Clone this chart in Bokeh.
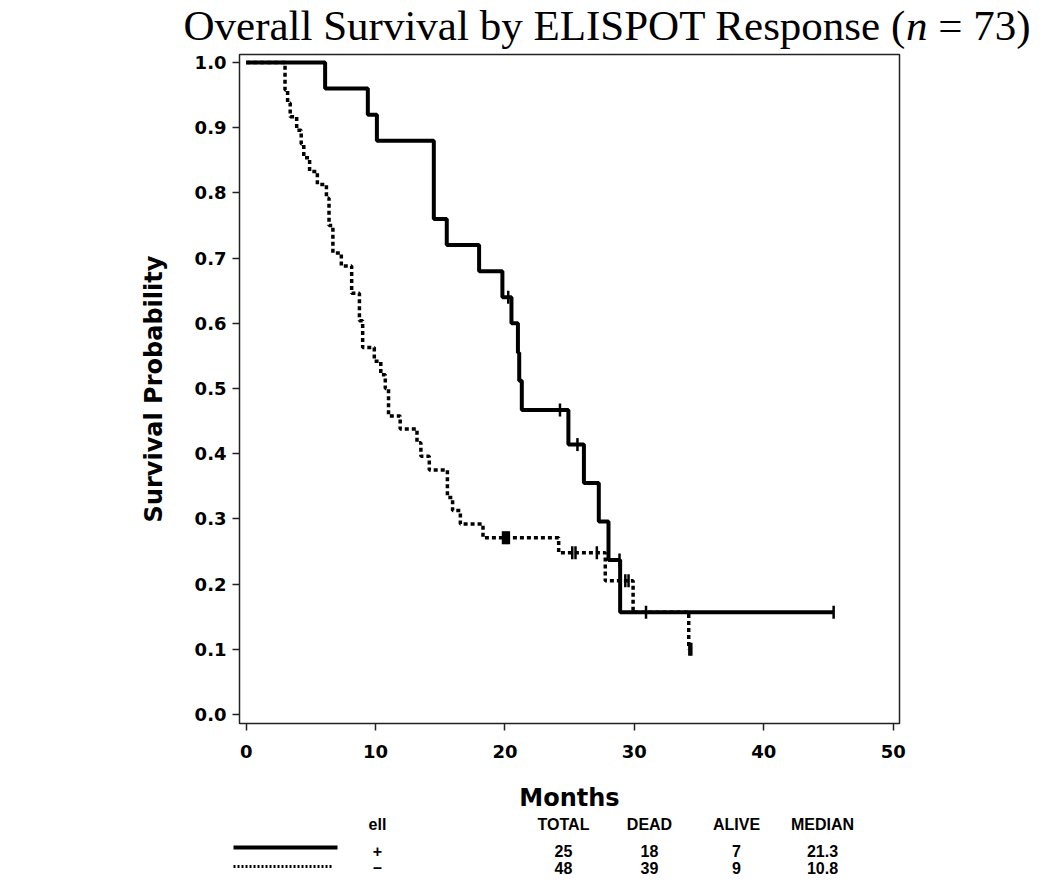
import numpy as np
from bokeh.plotting import figure
from bokeh.models import Range1d, FixedTicker, PrintfTickFormatter
from bokeh.layouts import column
from bokeh.embed import file_html
from bokeh.resources import INLINE
from bokeh.core.properties import value

# ---------------- data ----------------
# ELISPOT positive (+): Kaplan-Meier step function
pos_time = [0, 6.1, 9.4, 10.1, 14.5, 15.5, 18.0, 19.8, 20.5, 21.0, 21.1, 21.3,
            24.9, 26.1, 27.25, 28.0, 28.9, 45.4]
pos_surv = [1.0, 0.96, 0.92, 0.88, 0.76, 0.72, 0.68, 0.64, 0.60, 0.555, 0.512, 0.467,
            0.414, 0.355, 0.296, 0.237, 0.157, 0.157]
pos_cens_time = [20.25, 24.25, 25.6, 28.85, 30.9, 45.4]
pos_cens_surv = [0.64, 0.467, 0.414, 0.237, 0.157, 0.157]

# ELISPOT negative (-)
neg_time = [0, 3.0, 3.2, 3.4, 3.9, 4.25, 4.45, 4.9, 5.5, 6.2, 6.4, 6.7, 7.35, 8.15,
            8.75, 9.0, 9.9, 10.4, 10.75, 11.0, 11.9, 13.2, 13.5, 14.15, 15.55, 15.95,
            16.55, 18.3, 24.15, 27.75, 29.9, 34.2]
neg_surv = [1.0, 0.958, 0.938, 0.917, 0.896, 0.875, 0.854, 0.833, 0.813, 0.792, 0.750,
            0.708, 0.688, 0.646, 0.604, 0.563, 0.542, 0.521, 0.500, 0.458, 0.438,
            0.417, 0.396, 0.375, 0.333, 0.313, 0.292, 0.271, 0.248, 0.205, 0.157, 0.100]
neg_cens_time = [19.85, 20.0, 20.15, 20.3, 25.2, 25.45, 27.1, 29.3, 29.55, 34.25, 34.4]
neg_cens_surv = [0.271, 0.271, 0.271, 0.271, 0.248, 0.248, 0.248, 0.205, 0.205, 0.100, 0.100]

x_ticks = [0, 10, 20, 30, 40, 50]
y_ticks = [0.0, 0.1, 0.2, 0.3, 0.4, 0.5, 0.6, 0.7, 0.8, 0.9, 1.0]

table_headers = ["ell", "TOTAL", "DEAD", "ALIVE", "MEDIAN"]
groups = ["+", "–"]
total = ["25", "48"]
dead = ["18", "39"]
alive = ["7", "9"]
median = ["21.3", "10.8"]

title_a = "Overall Survival by ELISPOT Response ("
title_n = "n"
title_b = "= 73)"

# ---------------- layout (page pixel positions) ----------------
W = 1042
FRAME_LEFT_PX = 239
FRAME_W = 660
FRAME_TOP_PX = 54
FRAME_H = 669
X_LO, X_HI = -0.518, 50.49
Y_LO, Y_HI = -0.0138, 1.0123

TITLE_H = 50
MAIN_H = 815 - TITLE_H
TAB_H = 71

# ---- title strip ----
tt = figure(width=W, height=TITLE_H, output_backend="svg", toolbar_location=None,
            x_range=Range1d(0, W), y_range=Range1d(0, TITLE_H), min_border=0,
            background_fill_color="white", border_fill_color="white")
tt.frame_align = False
tt.axis.visible = False
tt.grid.visible = False
tt.outline_line_color = None

TF = 43
tfont = value("Liberation Serif")
start_px = 183
w_a = 16.804 * TF
w_n = 0.5 * TF
w_sp = 0.25 * TF
mid_y = TITLE_H - 25
tt.text(x=[start_px], y=[mid_y], text=[title_a], text_font=tfont, text_font_size=f"{TF}px",
        text_align="left", text_baseline="middle", text_color="black")
tt.text(x=[start_px + w_a], y=[mid_y], text=[title_n], text_font=tfont,
        text_font_style="italic", text_font_size=f"{TF}px",
        text_align="left", text_baseline="middle", text_color="black")
tt.text(x=[start_px + w_a + w_n + w_sp], y=[mid_y], text=[title_b], text_font=tfont,
        text_font_size=f"{TF}px",
        text_align="left", text_baseline="middle", text_color="black")

# ---- main plot ----
p = figure(width=W, height=MAIN_H, output_backend="svg", toolbar_location=None,
           x_range=Range1d(X_LO, X_HI), y_range=Range1d(Y_LO, Y_HI),
           min_border_left=FRAME_LEFT_PX, min_border_right=W - FRAME_LEFT_PX - FRAME_W,
           min_border_top=FRAME_TOP_PX - TITLE_H,
           min_border_bottom=MAIN_H - (FRAME_TOP_PX - TITLE_H) - FRAME_H,
           background_fill_color="white", border_fill_color="white")
p.grid.visible = False
p.outline_line_color = "#222222"
p.outline_line_width = 1.5

sans = "DejaVu Sans"
for ax in (p.xaxis, p.yaxis):
    ax.axis_line_color = None
    ax.major_tick_line_color = "#222222"
    ax.major_tick_line_width = 1.5
    ax.major_tick_out = 7
    ax.major_tick_in = 0
    ax.minor_tick_line_color = None
    ax.major_label_text_font = sans
    ax.major_label_text_font_style = "bold"
    ax.major_label_text_font_size = "18px"
    ax.major_label_text_color = "black"
    ax.axis_label_text_font = sans
    ax.axis_label_text_font_style = "bold"
    ax.axis_label_text_font_size = "24px"
    ax.axis_label_text_color = "black"

p.xaxis.ticker = FixedTicker(ticks=x_ticks)
p.yaxis.ticker = FixedTicker(ticks=y_ticks)
p.yaxis.formatter = PrintfTickFormatter(format="%.1f")
p.xaxis.axis_label = "Months"
p.yaxis.axis_label = "Survival Probability"
p.xaxis.major_label_standoff = 14
p.yaxis.major_label_standoff = 6
p.xaxis.axis_label_standoff = 23
p.yaxis.axis_label_standoff = 24

p.step(neg_time, neg_surv, mode="after", line_color="black", line_width=3.5, line_dash="4 3")
p.step(pos_time, pos_surv, mode="after", line_color="black", line_width=4)
p.scatter(neg_cens_time, neg_cens_surv, marker="dash", angle=np.pi / 2, size=13,
          line_color="black", line_width=2.5)
p.scatter(pos_cens_time, pos_cens_surv, marker="dash", angle=np.pi / 2, size=13,
          line_color="black", line_width=2.5)

# ---- bottom table ----
t = figure(width=W, height=TAB_H, output_backend="svg", toolbar_location=None,
           x_range=Range1d(0, W), y_range=Range1d(0, TAB_H), min_border=0,
           background_fill_color="white", border_fill_color="white")
t.frame_align = False
t.axis.visible = False
t.grid.visible = False
t.outline_line_color = None

BOTTOM_PX = 815 + TAB_H
def ty(page_y):
    return BOTTOM_PX - page_y

col_x = [377, 563, 649, 736, 822]
hdr_y = ty(824)
row_y = [ty(850), ty(867)]

tfont_tab = value("Liberation Sans")
t.text(x=col_x, y=[hdr_y] * len(col_x), text=table_headers, text_align="center",
       text_baseline="middle", text_font=tfont_tab, text_font_style="bold",
       text_font_size="16px", text_color="black")
for i in range(2):
    vals = [groups[i], total[i], dead[i], alive[i], median[i]]
    t.text(x=col_x, y=[row_y[i]] * len(col_x), text=vals, text_align="center",
           text_baseline="middle", text_font=tfont_tab, text_font_style="bold",
           text_font_size="16px", text_color="black")

t.line([233, 337], [ty(847), ty(847)], line_color="black", line_width=4)
t.line([233, 333], [ty(866), ty(866)], line_color="black", line_width=3, line_dash="2 2")

layout = column(tt, p, t, spacing=0)
open("out.html", "w").write(file_html(layout, INLINE))
